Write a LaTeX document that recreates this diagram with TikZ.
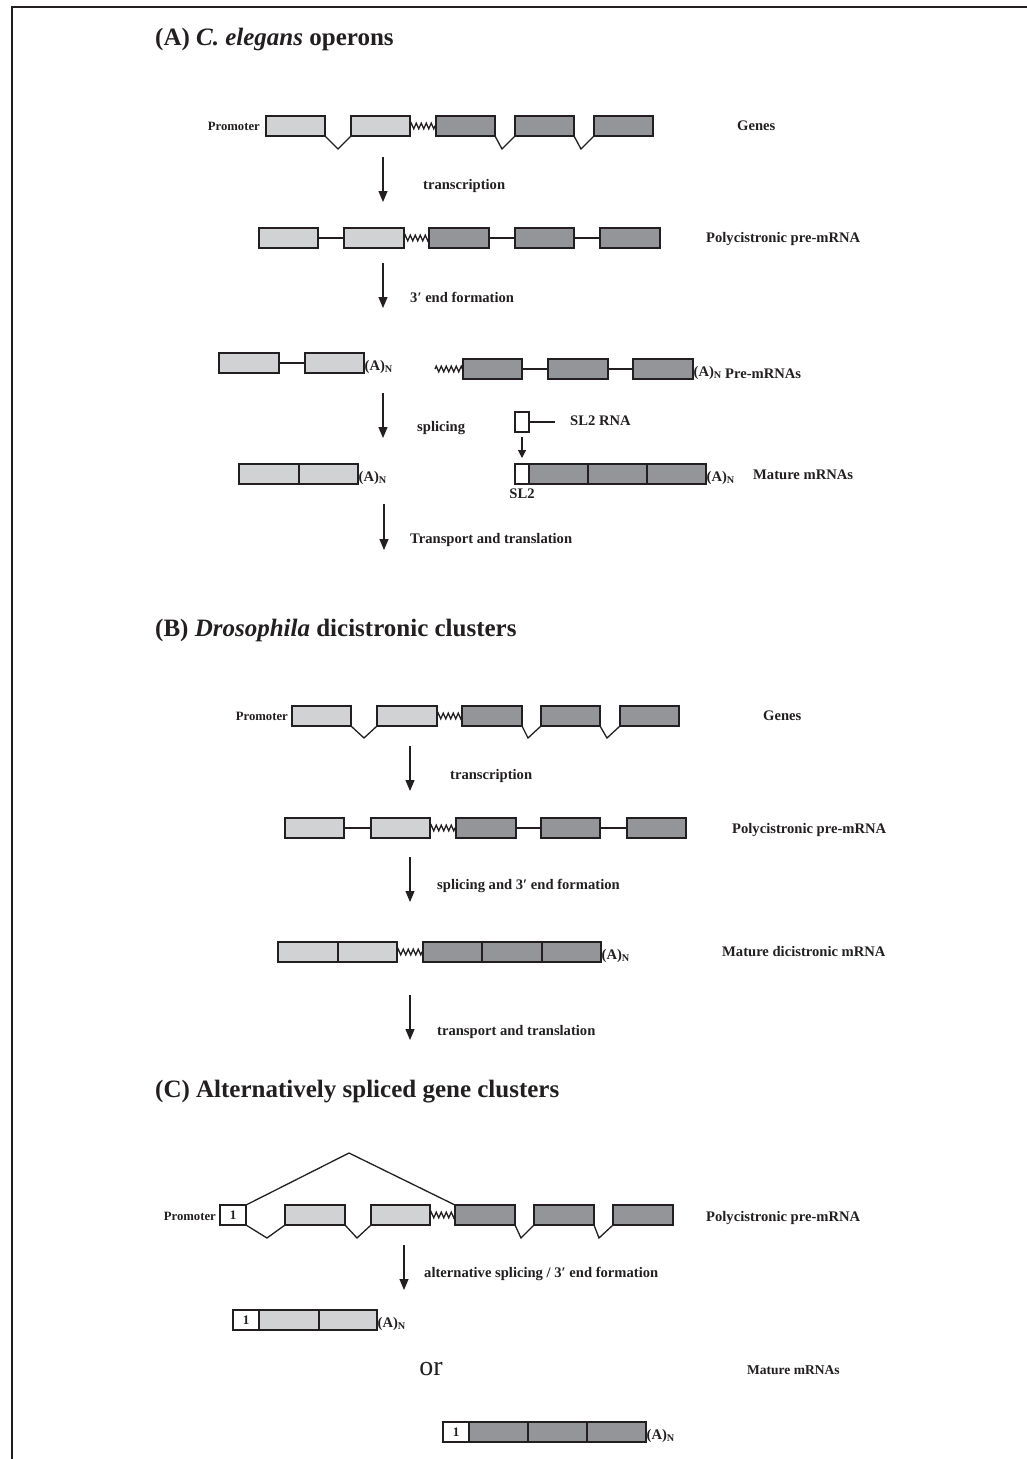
\documentclass[tikz,border=0pt]{standalone}
\usepackage{fontspec}
\setmainfont{Liberation Serif}
\usetikzlibrary{arrows.meta,decorations.pathmorphing}
\definecolor{lgray}{HTML}{D1D2D4}
\definecolor{dgray}{HTML}{939598}
\definecolor{ink}{HTML}{231F20}
\newcommand{\AN}{(A)\textsubscript{N}}
\newcommand{\pr}{\char"2032\relax}
\begin{document}
\begin{tikzpicture}[x=1pt,y=-1pt,
 gbox/.style={draw=ink,line width=1.6pt,minimum height=20pt,minimum width=59pt,inner sep=0pt,outer sep=0pt,anchor=west},
 lbox/.style={gbox,fill=lgray},
 dbox/.style={gbox,fill=dgray},
 wbox/.style={gbox,fill=white,font=\fontsize{13}{13}\selectfont\bfseries,text=ink},
 intr/.style={draw=ink,line width=1.3pt},
 wav/.style={draw=ink,line width=1.3pt,decorate,decoration={zigzag,segment length=5pt,amplitude=2.8pt}},
 stp/.style={draw=ink,line width=1.1pt,-{Triangle[length=11pt,width=9pt]}},
 stps/.style={draw=ink,line width=1.1pt,-{Triangle[length=8pt,width=8pt]}},
 lab/.style={anchor=west,inner sep=0pt,font=\fontsize{14.6}{16}\selectfont\bfseries,text=ink},
 slab/.style={anchor=west,inner sep=0pt,font=\fontsize{13.5}{15}\selectfont\bfseries,text=ink},
 prom/.style={anchor=east,inner sep=0pt,font=\fontsize{12.7}{14}\selectfont\bfseries,text=ink},
 head/.style={anchor=west,inner sep=0pt,font=\fontsize{25}{28}\selectfont\bfseries,text=ink},
 polyA/.style={anchor=west,inner sep=0.5pt,font=\fontsize{14.6}{16}\selectfont\bfseries,text=ink},
]
\useasboundingbox (0,0) rectangle (1027,1459);
\fill[white] (0,0) rectangle (1027,1459);
\draw[ink,line width=2.5pt] (12,1470) -- (12,7) -- (1040,7);

%% ---------------- (A) ----------------
\node[head] (hA) at (155,39) {(A) \textit{C. elegans} operons};
% genes
\node[prom] (pA) at (260,126) {Promoter};
\node[lbox] (a11) at (266,126) {};
\node[lbox] (a12) at (351,126) {};
\node[dbox] (a13) at (436,126) {};
\node[dbox] (a14) at (515,126) {};
\node[dbox] (a15) at (594,126) {};
\draw[intr] (a11.south east) -- (338,149) -- (a12.south west);
\draw[wav] (a12.east) -- (a13.west);
\draw[intr] (a13.south east) -- (502,149) -- (a14.south west);
\draw[intr] (a14.south east) -- (581,149) -- (a15.south west);
\node[lab] (gA) at (737,126) {Genes};
\coordinate (A1s) at (383,157); \coordinate (A1e) at (383,202);
\draw[stp] (A1s) -- (A1e);
\node[lab] (tA) at (423,186) {transcription};
% polycistronic
\node[lbox] (a21) at (259,238) {};
\node[lbox,minimum width=60pt] (a22) at (344,238) {};
\node[dbox,minimum width=60pt] (a23) at (429,238) {};
\node[dbox] (a24) at (515,238) {};
\node[dbox,minimum width=60pt] (a25) at (600,238) {};
\draw[intr] (a21.east) -- (a22.west);
\draw[wav] (a22.east) -- (a23.west);
\draw[intr] (a23.east) -- (a24.west);
\draw[intr] (a24.east) -- (a25.west);
\node[lab] (plA) at (706,239) {Polycistronic pre-mRNA};
\coordinate (A2s) at (383,263); \coordinate (A2e) at (383,308);
\draw[stp] (A2s) -- (A2e);
\node[lab] (eA) at (410,297) {3\pr{} end formation};
% pre-mRNAs
\node[lbox,minimum width=60pt] (a31) at (219,363) {};
\node[lbox] (a32) at (305,363) {};
\draw[intr] (a31.east) -- (a32.west);
\node[polyA] (n31) at (364,367) {\AN};
\coordinate (a3w) at (435,369);
\node[dbox] (a33) at (463,369) {};
\node[dbox,minimum width=60pt] (a34) at (548,369) {};
\node[dbox,minimum width=60pt] (a35) at (633,369) {};
\draw[wav] (a3w) -- (a33.west);
\draw[intr] (a33.east) -- (a34.west);
\draw[intr] (a34.east) -- (a35.west);
\node[polyA] (n35) at (693,373) {\AN};
\node[lab] (prA) at (725,374) {Pre-mRNAs};
\coordinate (A3s) at (383,393); \coordinate (A3e) at (383,438);
\draw[stp] (A3s) -- (A3e);
\node[lab] (sA) at (417,428) {splicing};
% SL2 RNA
\node[wbox,minimum width=14pt] (sl2) at (515,422) {};
\coordinate (sl2e) at (555,422);
\draw[intr] (sl2.east) -- (sl2e);
\node[lab] (slA) at (570,421) {SL2 RNA};
\coordinate (S2s) at (522,437); \coordinate (S2e) at (522,458);
\draw[stps] (S2s) -- (S2e);
% mature
\node[lbox,minimum width=60pt] (a41) at (239,474) {};
\node[lbox] (a42) at (299,474) {};
\node[polyA] (n42) at (358,478) {\AN};
\node[wbox,minimum width=14pt] (a43) at (515,474) {};
\node[dbox] (a44) at (529,474) {};
\node[dbox] (a45) at (588,474) {};
\node[dbox] (a46) at (647,474) {};
\node[polyA] (n46) at (706,478) {\AN};
\node[lab,anchor=north] (slb) at (522,489) {SL2};
\node[lab] (mA) at (753,475) {Mature mRNAs};
\coordinate (A4s) at (384,504); \coordinate (A4e) at (384,550);
\draw[stp] (A4s) -- (A4e);
\node[lab] (ttA) at (410,540) {Transport and translation};

%% ---------------- (B) ----------------
\node[head] (hB) at (155,630) {(B) \textit{Drosophila} dicistronic clusters};
\node[prom] (pB) at (288,716) {Promoter};
\node[lbox] (b11) at (292,716) {};
\node[lbox,minimum width=60pt] (b12) at (377,716) {};
\node[dbox,minimum width=60pt] (b13) at (462,716) {};
\node[dbox] (b14) at (541,716) {};
\node[dbox] (b15) at (620,716) {};
\draw[intr] (b11.south east) -- (364,738) -- (b12.south west);
\draw[wav] (b12.east) -- (b13.west);
\draw[intr] (b13.south east) -- (528,738) -- (b14.south west);
\draw[intr] (b14.south east) -- (607,738) -- (b15.south west);
\node[lab] (gB) at (763,716) {Genes};
\coordinate (B1s) at (410,746); \coordinate (B1e) at (410,791);
\draw[stp] (B1s) -- (B1e);
\node[lab] (tB) at (450,776) {transcription};
\node[lbox] (b21) at (285,828) {};
\node[lbox] (b22) at (371,828) {};
\node[dbox,minimum width=60pt] (b23) at (456,828) {};
\node[dbox] (b24) at (541,828) {};
\node[dbox] (b25) at (627,828) {};
\draw[intr] (b21.east) -- (b22.west);
\draw[wav] (b22.east) -- (b23.west);
\draw[intr] (b23.east) -- (b24.west);
\draw[intr] (b24.east) -- (b25.west);
\node[lab] (plB) at (732,830) {Polycistronic pre-mRNA};
\coordinate (B2s) at (410,857); \coordinate (B2e) at (410,902);
\draw[stp] (B2s) -- (B2e);
\node[lab] (sB) at (437,886) {splicing and 3\pr{} end formation};
\node[lbox,minimum width=60pt] (b31) at (278,952) {};
\node[lbox] (b32) at (338,952) {};
\node[dbox] (b33) at (423,952) {};
\node[dbox,minimum width=60pt] (b34) at (482,952) {};
\node[dbox] (b35) at (542,952) {};
\draw[wav] (b32.east) -- (b33.west);
\node[polyA] (n35b) at (601,956) {\AN};
\node[lab] (mB) at (722,952) {Mature dicistronic mRNA};
\coordinate (B3s) at (410,995); \coordinate (B3e) at (410,1040);
\draw[stp] (B3s) -- (B3e);
\node[lab] (ttB) at (437,1032) {transport and translation};

%% ---------------- (C) ----------------
\node[head] (hC) at (155,1092) {(C) Alternatively spliced gene clusters};
\node[prom] (pC) at (216,1216) {Promoter};
\node[wbox,minimum width=26pt] (c11) at (220,1215) {1};
\node[lbox,minimum width=60pt] (c12) at (285,1215) {};
\node[lbox] (c13) at (371,1215) {};
\node[dbox,minimum width=60pt] (c14) at (455,1215) {};
\node[dbox,minimum width=60pt] (c15) at (534,1215) {};
\node[dbox,minimum width=60pt] (c16) at (613,1215) {};
\draw[intr] (c11.north east) -- (349,1153) -- (c14.north west);
\draw[intr] (c11.south east) -- (267,1238) -- (c12.south west);
\draw[intr] (c12.south east) -- (357,1238) -- (c13.south west);
\draw[wav] (c13.east) -- (c14.west);
\draw[intr] (c14.south east) -- (521,1238) -- (c15.south west);
\draw[intr] (c15.south east) -- (599,1238) -- (c16.south west);
\node[lab] (plC) at (706,1218) {Polycistronic pre-mRNA};
\coordinate (C1s) at (404,1245); \coordinate (C1e) at (404,1290);
\draw[stp] (C1s) -- (C1e);
\node[lab] (aC) at (424,1274) {alternative splicing / 3\pr{} end formation};
\node[wbox,minimum width=26pt] (c21) at (233,1320) {1};
\node[lbox,minimum width=60pt] (c22) at (259,1320) {};
\node[lbox,minimum width=58pt] (c23) at (319,1320) {};
\node[polyA] (n23) at (377,1324) {\AN};
\node[font=\fontsize{28}{30}\selectfont,text=ink,inner sep=0pt] (orC) at (431,1369) {or};
\node[slab] (mC) at (747,1370) {Mature mRNAs};
\node[wbox,minimum width=26pt] (c31) at (443,1432) {1};
\node[dbox] (c32) at (469,1432) {};
\node[dbox] (c33) at (528,1432) {};
\node[dbox] (c34) at (587,1432) {};
\node[polyA] (n34) at (646,1436) {\AN};
\end{tikzpicture}
\end{document}
